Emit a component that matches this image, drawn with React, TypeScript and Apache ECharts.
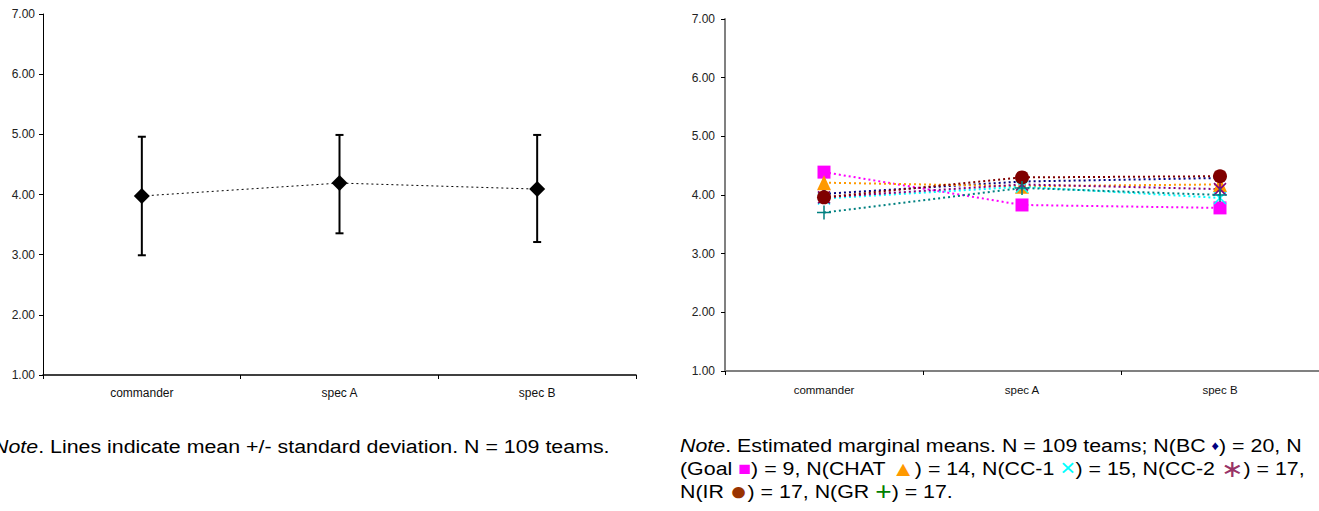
import React, { useEffect, useRef } from "react";
import * as echarts from "echarts";

const categories = ["commander", "spec A", "spec B"];
const yTicks = [1, 2, 3, 4, 5, 6, 7];

// Left chart: mean and mean +/- SD
const meanValues = [3.975, 4.19, 4.09];
const sdLow = [2.99, 3.355, 3.21];
const sdHigh = [4.96, 4.99, 4.99];

// Right chart: estimated marginal means per group
const groupNames = ["BC", "Goal", "CHAT", "CC-1", "CC-2", "IR", "GR"];
const bcValues = [4.02, 4.23, 4.29];
const goalValues = [4.39, 3.83, 3.78];
const chatValues = [4.21, 4.15, 4.18];
const cc1Values = [3.94, 4.14, 3.95];
const cc2Values = [3.96, 4.18, 4.1];
const irValues = [3.96, 4.3, 4.32];
const grValues = [3.7, 4.12, 4.0];

const leftNote = "Note. Lines indicate mean +/- standard deviation. N = 109 teams.";

const FONT = "Liberation Sans, Arial, sans-serif";

export default function App() {
  const ref = useRef<HTMLDivElement>(null);

  useEffect(() => {
    if (!ref.current) return;
    const chart = echarts.init(ref.current, undefined, { renderer: "svg" });

    const axisLabelY = (margin: number) => ({
      fontSize: 12,
      fontFamily: FONT,
      color: "#222",
      margin,
      formatter: (v: number) => v.toFixed(2),
    });

    const markerColor = (c: string, border?: number) => ({
      color: c,
      borderColor: c,
      borderWidth: border ?? 0,
    });

    const groupSeries = [
      { name: groupNames[0], data: bcValues, color: "#000080", symbol: "diamond", size: [8, 11], border: 0 },
      { name: groupNames[1], data: goalValues, color: "#FF00FF", symbol: "rect", size: 13, border: 0 },
      { name: groupNames[2], data: chatValues, color: "#FF9900", symbol: "triangle", size: [14, 15], border: 0 },
      { name: groupNames[3], data: cc1Values, color: "#00FFFF", symbol: "path://M0,0L10,10M10,0L0,10", size: 12, border: 1.5 },
      { name: groupNames[4], data: cc2Values, color: "#800080", symbol: "path://M0,0L10,10M10,0L0,10M5,0L5,10", size: 12, border: 1.5 },
      { name: groupNames[5], data: irValues, color: "#800000", symbol: "circle", size: 14, border: 0 },
      { name: groupNames[6], data: grValues, color: "#008080", symbol: "path://M5,0L5,10M0,5L10,5", size: 14, border: 1.5 },
    ].map((g) => ({
      name: g.name,
      type: "line",
      xAxisIndex: 1,
      yAxisIndex: 1,
      data: g.data,
      symbol: g.symbol,
      symbolSize: g.size,
      showSymbol: true,
      lineStyle: { color: g.color, width: 2, type: [2, 3] },
      itemStyle: markerColor(g.color, g.border),
      z: 3,
    }));

    const errData = categories.map((_, i) => [i, sdLow[i], sdHigh[i]]);

    const rightNoteText =
      "{i|Note}. Estimated marginal means. N = 109 teams; N(BC {bc|♦}) = 20, N\n" +
      "(Goal {goal|■}) = 9, N(CHAT {chat|▲}) = 14, N(CC-1 {cc1|×}) = 15, N(CC-2 {cc2|∗}) = 17,\n" +
      "N(IR {ir|●}) = 17, N(GR {gr|+}) = 17.";

    const base = { fontSize: 19, fontFamily: FONT, fill: "#000", lineHeight: 23 };
    const sx = 1.125;

    chart.setOption({
      animation: false,
      backgroundColor: "#fff",
      grid: [
        { left: 43, top: 14, width: 593, height: 361 },
        { left: 725, top: 19, width: 594, height: 352 },
      ],
      xAxis: [
        {
          type: "category",
          gridIndex: 0,
          data: categories,
          boundaryGap: true,
          axisLine: { lineStyle: { color: "#000", width: 1.5 } },
          axisTick: { show: true, length: 4, lineStyle: { color: "#000" } },
          axisLabel: { fontSize: 12, fontFamily: FONT, color: "#111", margin: 12 },
        },
        {
          type: "category",
          gridIndex: 1,
          data: categories,
          boundaryGap: true,
          axisLine: { lineStyle: { color: "#808080", width: 2 } },
          axisTick: { show: true, length: 4, lineStyle: { color: "#000" } },
          axisLabel: { fontSize: 11.5, fontFamily: FONT, color: "#111", margin: 13 },
        },
      ],
      yAxis: [
        {
          type: "value",
          gridIndex: 0,
          min: yTicks[0],
          max: yTicks[yTicks.length - 1],
          interval: 1,
          splitLine: { show: false },
          axisLine: { show: true, lineStyle: { color: "#000", width: 1 } },
          axisTick: { show: true, length: 4, lineStyle: { color: "#000" } },
          axisLabel: axisLabelY(8),
        },
        {
          type: "value",
          gridIndex: 1,
          min: yTicks[0],
          max: yTicks[yTicks.length - 1],
          interval: 1,
          splitLine: { show: false },
          axisLine: { show: true, lineStyle: { color: "#808080", width: 2 } },
          axisTick: { show: true, length: 4, lineStyle: { color: "#000" } },
          axisLabel: axisLabelY(10),
        },
      ],
      series: [
        {
          type: "custom",
          xAxisIndex: 0,
          yAxisIndex: 0,
          data: errData,
          z: 2,
          renderItem: (params: any, api: any) => {
            const x = api.value(0);
            const lo = api.coord([x, api.value(1)]);
            const hi = api.coord([x, api.value(2)]);
            const cap = 4;
            const st = { stroke: "#000", lineWidth: 2 };
            return {
              type: "group",
              children: [
                { type: "line", shape: { x1: lo[0], y1: lo[1], x2: hi[0], y2: hi[1] }, style: st },
                { type: "line", shape: { x1: lo[0] - cap, y1: lo[1], x2: lo[0] + cap, y2: lo[1] }, style: st },
                { type: "line", shape: { x1: hi[0] - cap, y1: hi[1], x2: hi[0] + cap, y2: hi[1] }, style: st },
              ],
            };
          },
        },
        {
          type: "line",
          xAxisIndex: 0,
          yAxisIndex: 0,
          data: meanValues,
          symbol: "diamond",
          symbolSize: 16,
          lineStyle: { color: "#000", width: 1, type: [2, 3] },
          itemStyle: { color: "#000", borderWidth: 0 },
          z: 3,
        },
        ...groupSeries,
      ],
      graphic: [
        {
          type: "text",
          x: -7,
          y: 435,
          scaleX: sx,
          style: {
            text: "{i|Note}" + leftNote.slice(4),
            ...base,
            verticalAlign: "top",
            rich: { i: { ...base, fontStyle: "italic" } },
          },
        },
        {
          type: "text",
          x: 680,
          y: 434,
          scaleX: sx,
          style: {
            text: rightNoteText,
            ...base,
            verticalAlign: "top",
            rich: {
              i: { ...base, fontStyle: "italic" },
              bc: { ...base, fontSize: 13, fill: "#000080" },
              goal: { ...base, fontSize: 19, fill: "#FF00FF" },
              chat: { ...base, fontSize: 21, fill: "#FF9900" },
              cc1: { ...base, fontSize: 23, fill: "#00FFFF" },
              cc2: { ...base, fontSize: 24, fill: "#993366" },
              ir: { ...base, fontSize: 26, fill: "#993300" },
              gr: { ...base, fontSize: 25, fill: "#008000" },
            },
          },
        },
      ],
    });

    return () => chart.dispose();
  }, []);

  return (
    <div
      ref={ref}
      style={{ position: "absolute", left: 0, top: 0, width: 1319, height: 511 }}
    />
  );
}
